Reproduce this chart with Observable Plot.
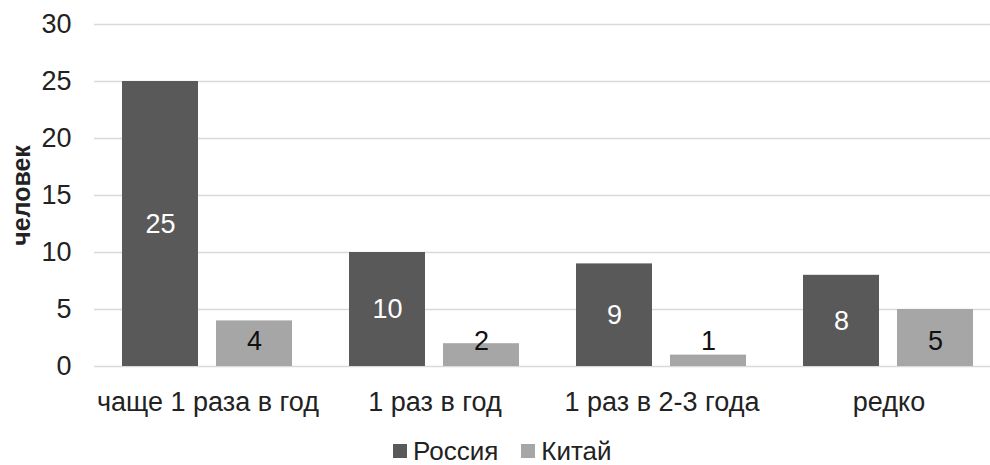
<!DOCTYPE html>
<html>
<head>
<meta charset="utf-8">
<script src="https://cdn.jsdelivr.net/npm/d3@7"></script>
<script src="https://cdn.jsdelivr.net/npm/@observablehq/plot@0.6"></script>
<style>
  html, body { margin: 0; padding: 0; background: #fff; }
  #wrap { position: relative; width: 990px; height: 465px; font-family: "Liberation Sans", Arial, sans-serif; color: #222; }
  #wrap svg [aria-label="y-axis label"] text, #wrap svg [aria-label="y-axis label"] { font-weight: bold; font-size: 25px; }
  #legend { position: absolute; left: 393px; top: 439px; display: flex; align-items: center; font-size: 26px; line-height: 24px; height: 24px; }
  .sw { display: inline-block; width: 14px; height: 14px; margin-right: 6px; }
  .item { display: flex; align-items: center; margin-right: 23px; }
</style>
</head>
<body>
<div id="wrap"></div>
<script>
const categories = ["чаще 1 раза в год", "1 раз в год", "1 раз в 2-3 года", "редко"];
const series = ["Россия", "Китай"];
const russia = [25, 10, 9, 8];
const china = [4, 2, 1, 5];
const yTicks = [0, 5, 10, 15, 20, 25, 30];
const colors = ["#595959", "#a6a6a6"];

const data = categories.flatMap((c, i) => [
  {cat: c, series: series[0], value: russia[i]},
  {cat: c, series: series[1], value: china[i]}
]);

const chart = Plot.plot({
  width: 990,
  height: 436,
  marginTop: 24,
  marginBottom: 70,
  marginLeft: 93,
  marginRight: 0,
  style: {fontFamily: "'Liberation Sans', Arial, sans-serif", fontSize: "27px", color: "#222", background: "white"},
  fx: {domain: categories, range: [93.5, 1001.5], padding: 0, label: null, tickSize: 0, tickPadding: 25},
  x: {domain: series, paddingInner: 0.19, paddingOuter: 0.3, axis: null},
  y: {domain: [0, 30], ticks: yTicks, tickSize: 0, tickPadding: 23, label: "человек", labelAnchor: "center", labelOffset: 82, labelArrow: "none"},
  color: {domain: series, range: colors},
  marks: [
    Plot.gridY(yTicks, {stroke: "#d9d9d9", strokeOpacity: 1, strokeWidth: 1.5}),
    Plot.barY(data, {fx: "cat", x: "series", y: "value", fill: "series"}),
    Plot.text(data.filter(d => d.series === series[0]), {fx: "cat", x: "series", y: d => d.value / 2, text: d => String(d.value), fill: "white", fontSize: 27}),
    Plot.text(data.filter(d => d.series === series[1]), {fx: "cat", x: "series", y: () => 0, dy: -25, text: d => String(d.value), fill: "#111", fontSize: 27})
  ]
});
document.getElementById("wrap").appendChild(chart);

const legend = document.createElement("div");
legend.id = "legend";
series.forEach((s, i) => {
  const item = document.createElement("div");
  item.className = "item";
  const sw = document.createElement("span");
  sw.className = "sw";
  sw.style.background = colors[i];
  item.appendChild(sw);
  item.appendChild(document.createTextNode(s));
  legend.appendChild(item);
});
document.getElementById("wrap").appendChild(legend);
</script>
</body>
</html>
